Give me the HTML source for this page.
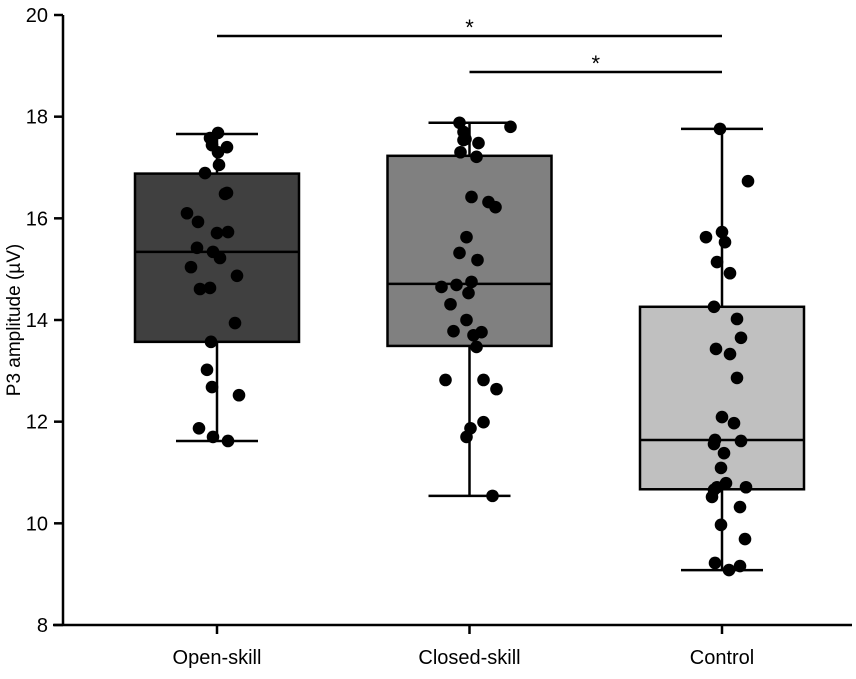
<!DOCTYPE html>
<html><head><meta charset="utf-8"><style>
body{margin:0;background:#fff;}
svg text{font-family:"Liberation Sans","DejaVu Sans",sans-serif;fill:#000;}
</style></head><body>
<svg id="chart" width="856" height="674" viewBox="0 0 856 674" xmlns="http://www.w3.org/2000/svg"></svg>
<script>
const categories = ["Open-skill","Closed-skill","Control"];
const fills = ["#404040","#808080","#c0c0c0"];
const q1 = [13.57, 13.49, 10.67];
const medians = [15.34, 14.71, 11.64];
const q3 = [16.88, 17.23, 14.26];
const whiskLow = [11.62, 10.54, 9.08];
const whiskHigh = [17.66, 17.88, 17.76];
const openVals = [17.68,17.58,17.44,17.40,17.30,17.05,16.89,16.50,16.48,16.10,15.93,15.71,15.73,15.42,15.34,15.22,15.04,14.87,14.61,14.63,13.94,13.57,13.02,12.68,12.52,11.87,11.70,11.62];
const openJit = [1,-7,-5,10,1,2,-12,10,8,-30,-19,0,11,-20,-4,3,-26,20,-17,-7,18,-6,-10,-5,22,-18,-4,11];
const closedVals = [17.88,17.80,17.70,17.56,17.54,17.48,17.30,17.21,16.42,16.32,16.22,15.63,15.32,15.18,14.65,14.69,14.75,14.53,14.31,14.00,13.78,13.70,13.76,13.47,12.82,12.82,12.64,11.99,11.87,11.70,10.54];
const closedJit = [-10,41,-6,-4,-6,9,-9,7,2,19,26,-3,-10,8,-28,-13,2,-1,-19,-3,-16,4,12,7,-24,14,27,14,1,-3,23];
const controlVals = [17.76,16.73,15.73,15.63,15.53,15.14,14.92,14.26,14.02,13.65,13.43,13.33,12.86,12.09,11.97,11.64,11.56,11.62,11.38,11.09,10.79,10.71,10.66,10.71,10.52,10.32,9.97,9.69,9.22,9.08,9.16];
const controlJit = [-2,26,0,-16,3,-5,8,-8,15,19,-6,8,15,0,12,-7,-8,19,2,-1,4,-5,-8,24,-10,18,-1,23,-7,7,18];
const yTicks = [8,10,12,14,16,18,20];
const sigPairs = [[0,2],[1,2]];
const sigLabels = ["*","*"];

const svg = document.getElementById('chart');
const NS = "http://www.w3.org/2000/svg";
const yMin=8,yMax=20,pTop=15,pBot=625,left=63,right=852;
const y = v => pBot - (v-yMin)/(yMax-yMin)*(pBot-pTop);
const xC = i => 217 + i*252.5;
const boxW = 164;
function mk(tag, attrs, parent){const e=document.createElementNS(NS,tag);for(const k in attrs)e.setAttribute(k,attrs[k]);(parent||svg).appendChild(e);return e;}

let a = mk('line',{x1:left,y1:pTop,x2:left,y2:pBot+1,stroke:'#000','stroke-width':2.5});


a = mk('line',{x1:left-10,y1:pBot,x2:right,y2:pBot,stroke:'#000','stroke-width':2.5});


yTicks.forEach(t=>{
  const l=mk('line',{x1:left-9,y1:y(t),x2:left,y2:y(t),stroke:'#000','stroke-width':2.5});
  
  
  const tx=mk('text',{x:left-15,y:y(t)+7,'text-anchor':'end','font-size':20});
  tx.textContent=t;
  
  
});
const yt=mk('text',{x:0,y:0,transform:'translate(20,320) rotate(-90)','text-anchor':'middle','font-size':19});
yt.textContent='P3 amplitude (µV)';



const allVals=[openVals,closedVals,controlVals], allJit=[openJit,closedJit,controlJit];
categories.forEach((c,i)=>{
  const cx=xC(i);
  const tk=mk('line',{x1:cx,y1:pBot,x2:cx,y2:pBot+9,stroke:'#000','stroke-width':2.5});
  
  
  const lb=mk('text',{x:cx,y:664,'text-anchor':'middle','font-size':20});
  lb.textContent=c;
  
  
  const g=mk('g',{});
  
  
  mk('line',{x1:cx,y1:y(whiskHigh[i]),x2:cx,y2:y(whiskLow[i]),stroke:'#000','stroke-width':2.5},g);
  mk('line',{x1:cx-41,y1:y(whiskHigh[i]),x2:cx+41,y2:y(whiskHigh[i]),stroke:'#000','stroke-width':2.5},g);
  mk('line',{x1:cx-41,y1:y(whiskLow[i]),x2:cx+41,y2:y(whiskLow[i]),stroke:'#000','stroke-width':2.5},g);
  mk('rect',{x:cx-boxW/2,y:y(q3[i]),width:boxW,height:y(q1[i])-y(q3[i]),fill:fills[i],stroke:'#000','stroke-width':2.5},g);
  mk('line',{x1:cx-boxW/2,y1:y(medians[i]),x2:cx+boxW/2,y2:y(medians[i]),stroke:'#000','stroke-width':2.5},g);
  allVals[i].forEach((v,j)=>{
    const p=mk('circle',{cx:cx+allJit[i][j],cy:y(v),r:6.3,fill:'#000'});
    
    
  });
});
sigPairs.forEach((pr,k)=>{
  const ly = 36 + k*36;
  const l=mk('line',{x1:xC(pr[0]),y1:ly,x2:xC(pr[1]),y2:ly,stroke:'#000','stroke-width':2.5});
  
  
  const s=mk('text',{x:(xC(pr[0])+xC(pr[1]))/2,y:ly-1,'text-anchor':'middle','font-size':22});
  s.textContent=sigLabels[k];
  
  
});
</script>
</body></html>
